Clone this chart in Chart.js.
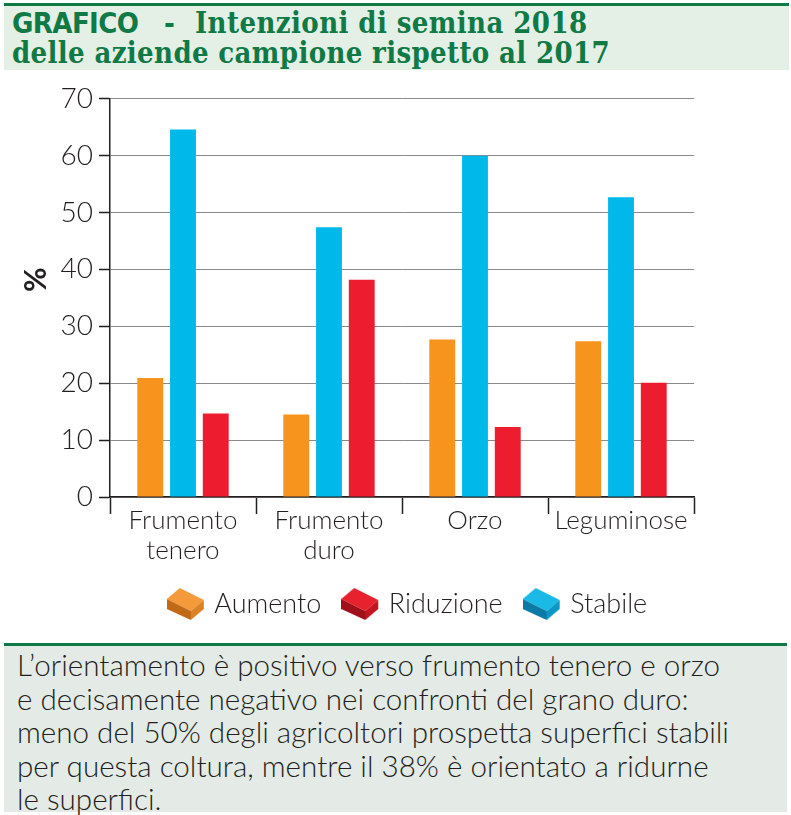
<!DOCTYPE html>
<html>
<head>
<meta charset="utf-8">
<script src="https://cdn.jsdelivr.net/npm/chart.js@4.4.1/dist/chart.umd.min.js"></script>
<style>
  body { margin: 0; width: 791px; height: 815px; background: #fff; position: relative; overflow: hidden; }
  #title {
    position: absolute; left: 4px; top: 3px; width: 785px; height: 67px;
    border-top: 3px solid #0f7a45; background: #e4efe6;
    color: #0f7a45; font-family: "DejaVu Serif Condensed", "DejaVu Serif", serif;
    font-weight: bold; font-size: 29px; line-height: 30px; box-sizing: border-box;
  }
  #title span { position: absolute; white-space: nowrap; }
  #title .g { font-family: "DejaVu Sans Condensed", sans-serif; font-size: 29px; letter-spacing: -0.6px; }
  #wrap { position: absolute; left: 0; top: 76px; width: 791px; height: 566px; }
  #note {
    position: absolute; left: 4px; top: 643px; width: 783px; height: 169px;
    border-top: 3px solid #0f7a45; background: #e4eae5; box-sizing: border-box;
    color: #231f20; font-family: Lato, "DejaVu Sans Condensed", sans-serif; font-weight: 300;
    font-size: 29.6px; line-height: 33.5px; padding: 2px 0 0 13px;
  }
</style>
</head>
<body>
<div id="title">
  <span class="g" style="left:8px; top:2px;">GRAFICO</span>
  <span style="left:160px; top:2px;">-</span>
  <span style="left:191px; top:2px; letter-spacing:0.4px;">Intenzioni di semina 2018</span>
  <span style="left:8px; top:32px; letter-spacing:0.35px;">delle aziende campione rispetto al 2017</span>
</div>
<div id="wrap"><canvas id="myChart" width="791" height="566"></canvas></div>
<div id="note">L’orientamento è positivo verso frumento tenero e orzo<br>e decisamente negativo nei confronti del grano duro:<br>meno del 50% degli agricoltori prospetta superfici stabili<br>per questa coltura, mentre il 38% è orientato a ridurne<br>le superfici.</div>
<script>
// Valori (%)
const categories = [["Frumento", "tenero"], ["Frumento", "duro"], "Orzo", "Leguminose"];
const aumento = [20.9, 14.5, 27.7, 27.4];
const stabile = [64.6, 47.4, 60.0, 52.7];
const riduzione = [14.7, 38.2, 12.3, 20.1];
const yTicks = [0, 10, 20, 30, 40, 50, 60, 70];
const legendOrder = ["Aumento", "Riduzione", "Stabile"];

const FONT = 'Lato, "DejaVu Sans Condensed", sans-serif';
const TEXT = "#231f20";

// piccolo mattoncino 3D per la legenda
function brick(top, front, side) {
  const c = document.createElement("canvas");
  c.width = 38; c.height = 34;
  const g = c.getContext("2d");
  function face(pts, col) {
    g.beginPath();
    g.moveTo(pts[0][0], pts[0][1]);
    for (let i = 1; i < pts.length; i++) g.lineTo(pts[i][0], pts[i][1]);
    g.closePath();
    g.fillStyle = col;
    g.fill();
  }
  face([[0, 12], [13, 1], [37, 13], [24, 24]], top);
  face([[0, 12], [24, 24], [24, 33], [0, 22]], front);
  face([[24, 24], [37, 13], [37, 22], [24, 33]], side);
  return c;
}

// sposta la legenda per centrarla come nell'originale
const shiftLegend = {
  id: "shiftLegend",
  afterLayout(chart) {
    chart.legend.left += 62;
    chart.legend.right += 62;
  }
};

const ctx = document.getElementById("myChart");

new Chart(ctx, {
  type: "bar",
  data: {
    labels: categories,
    datasets: [
      { label: "Aumento", data: aumento, backgroundColor: "#f7941e",
        pointStyle: brick("#f49a3a", "#c06a18", "#dd8224") },
      { label: "Stabile", data: stabile, backgroundColor: "#00b9eb",
        pointStyle: brick("#1bb9e6", "#0b7ba6", "#0a98c8") },
      { label: "Riduzione", data: riduzione, backgroundColor: "#ed1c2e",
        pointStyle: brick("#e8212f", "#a0101b", "#c3141f") }
    ]
  },
  plugins: [shiftLegend],
  options: {
    responsive: false,
    animation: false,
    categoryPercentage: 0.673,
    barPercentage: 0.79,
    layout: { padding: { top: 22, right: 97, bottom: 14.5, left: 0 } },
    plugins: {
      tooltip: { enabled: false },
      legend: {
        position: "bottom",
        labels: {
          usePointStyle: true,
          pointStyleWidth: 30,
          padding: 24,
          color: TEXT,
          font: { family: FONT, size: 27, weight: 300 },
          sort: (a, b) => legendOrder.indexOf(a.text) - legendOrder.indexOf(b.text)
        }
      }
    },
    scales: {
      x: {
        grid: { display: true, offset: true, drawOnChartArea: false, tickLength: 17, tickColor: "#231f20", tickWidth: 1.5 },
        border: { color: "#231f20", width: 1.5 },
        ticks: { color: TEXT, font: { family: FONT, size: 26, weight: 300, lineHeight: 1.15 }, padding: -8, maxRotation: 0, autoSkip: false },
        afterFit: (s) => { s.height = 69.5; }
      },
      y: {
        min: 0, max: 70,
        afterBuildTicks: (s) => { s.ticks = yTicks.map(v => ({ value: v })); },
        grid: { color: "#8a8a8a", lineWidth: 1, tickLength: 11, tickColor: "#231f20", tickWidth: 1.5 },
        border: { color: "#231f20", width: 1.5 },
        ticks: { color: TEXT, font: { family: FONT, size: 28, weight: 300 }, padding: 6 },
        title: { display: true, text: "\u00a0\u00a0\u00a0\u00a0\u00a0%", color: TEXT, font: { family: FONT, size: 30, weight: "bold", lineHeight: 1 }, padding: { top: 21, bottom: 0 } },
        afterFit: (s) => { s.width = 110; }
      }
    }
  }
});
</script>
</body>
</html>
